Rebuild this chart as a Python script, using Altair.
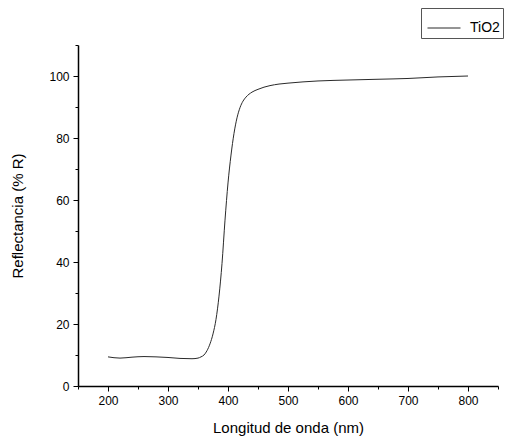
import altair as alt
import pandas as pd

wavelength = [200, 220, 240, 260, 280, 300, 320, 340, 350, 355, 360, 365, 370,
              375, 380, 385, 390, 395, 400, 405, 410, 415, 420, 425, 430, 440,
              450, 460, 470, 485, 500, 525, 550, 600, 650, 700, 750, 800]
reflectance = [9.4, 9.0, 9.3, 9.5, 9.4, 9.2, 8.9, 8.8, 9.0, 9.4, 10.0, 11.4, 13.6,
               16.8, 21.5, 29.0, 39.5, 53.5, 65.5, 74.5, 81.5, 86.5, 89.8, 91.9, 93.2, 94.8,
               95.7, 96.4, 96.9, 97.4, 97.7, 98.1, 98.4, 98.7, 98.95, 99.2, 99.7, 100.0]
series = ["TiO2"] * len(wavelength)

x_ticks = list(range(150, 851, 50))
y_ticks = list(range(0, 111, 10))

df = pd.DataFrame({"wl": wavelength, "R": reflectance, "s": series})

FONT = "Liberation Sans"

chart = alt.Chart(df).mark_line(strokeWidth=1, interpolate="monotone").encode(
    x=alt.X("wl:Q", scale=alt.Scale(domain=[150, 850], nice=False, zero=False),
            axis=alt.Axis(title="Longitud de onda (nm)", values=x_ticks,
                          labelExpr="datum.value % 100 == 0 ? datum.label : ''",
                          tickSize={"expr": "datum.value % 100 == 0 ? 5 : 3"},
                          grid=False, labelPadding=4, titlePadding=14)),
    y=alt.Y("R:Q", scale=alt.Scale(domain=[0, 110], nice=False),
            axis=alt.Axis(title="Reflectancia (% R)", values=y_ticks,
                          labelExpr="datum.value % 20 == 0 ? datum.label : ''",
                          tickSize={"expr": "datum.value % 20 == 0 ? 5 : 3"},
                          grid=False, labelPadding=4, titlePadding=23)),
    color=alt.Color("s:N", scale=alt.Scale(range=["#2a2a2a"]),
                    legend=alt.Legend(title=None, orient="none", legendX=343, legendY=-37,
                                      symbolType="stroke", symbolSize=1089,
                                      symbolStrokeWidth=1, strokeColor="#555555",
                                      padding=3, labelFontSize=14, labelFont=FONT,
                                      labelColor="#000000", labelOffset=9,
                                      symbolOffset=3)),
).properties(
    width=420, height=341,
    autosize=alt.AutoSizeParams(type="none"),
    padding={"left": 78, "top": 45, "right": 8, "bottom": 57},
).configure_view(stroke=None).configure_axis(
    domainColor="#000000", domainWidth=1.5, tickColor="#000000", tickWidth=1,
    labelFont=FONT, labelFontSize=12, labelColor="#000000",
    titleFont=FONT, titleFontSize=15, titleFontWeight="normal", titleColor="#000000",
)

chart.save("out.html", embed_options={"renderer": "svg", "actions": False})
